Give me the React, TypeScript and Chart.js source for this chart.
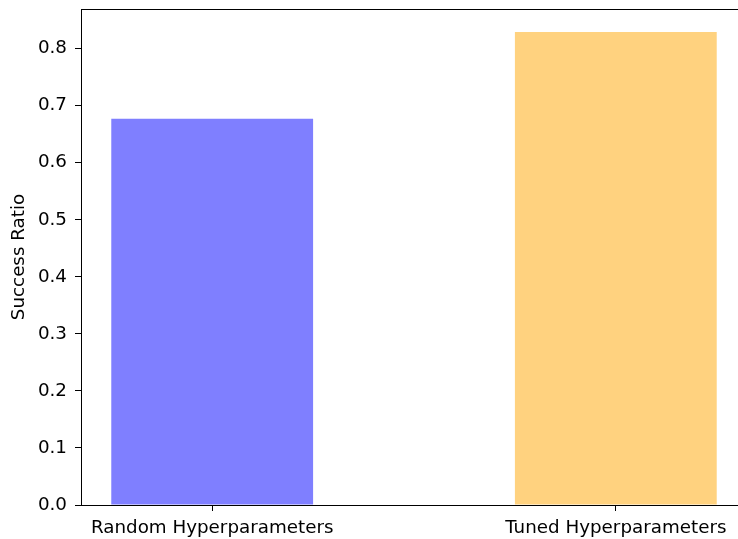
import React, { useEffect, useRef } from "react";
import { Chart, registerables } from "chart.js";

Chart.register(...registerables);

const categories = ["Random Hyperparameters", "Tuned Hyperparameters"];
const categoryPositions = [0, 1];
const successRatios = [0.677, 0.829];
const yTicks = [0, 0.1, 0.2, 0.3, 0.4, 0.5, 0.6, 0.7, 0.8];
const barColors = ["rgba(0,0,255,0.5)", "rgba(255,165,0,0.5)"];

const FONT = { family: "'DejaVu Sans', sans-serif", size: 18.3 };

const boxPlugin = {
  id: "box",
  afterDraw(chart: any) {
    const { ctx, chartArea } = chart;
    ctx.save();
    ctx.strokeStyle = "#000";
    ctx.lineWidth = 1;
    ctx.strokeRect(
      Math.round(chartArea.left) + 0.5,
      Math.round(chartArea.top) + 0.5,
      Math.round(chartArea.right - chartArea.left),
      Math.round(chartArea.bottom - chartArea.top)
    );
    ctx.restore();
  },
};

export default function App() {
  const ref = useRef<HTMLCanvasElement>(null);
  useEffect(() => {
    if (!ref.current) return;
    const chart = new Chart(ref.current, {
      type: "bar",
      data: {
        datasets: [
          {
            data: categoryPositions.map((x, i) => ({ x, y: successRatios[i] })),
            backgroundColor: barColors,
            borderWidth: 0,
            categoryPercentage: 1,
            barPercentage: 0.5,
          } as any,
        ],
      },
      plugins: [boxPlugin],
      options: {
        responsive: false,
        animation: false,
        devicePixelRatio: 1,
        layout: { padding: { top: 9, right: 13, left: 0, bottom: 0 } },
        plugins: { legend: { display: false }, tooltip: { enabled: false } },
        scales: {
          x: {
            type: "linear",
            offset: false,
            min: -0.325,
            max: 1.325,
            afterBuildTicks: (s: any) => {
              s.ticks = categoryPositions.map((v) => ({ value: v }));
            },
            afterFit: (s: any) => {
              s.height = 34;
              s.paddingLeft = 0;
              s.paddingRight = 0;
            },
            grid: { offset: false, drawOnChartArea: false, tickLength: 6, color: "#000", tickWidth: 1 },
            border: { color: "#000", width: 1 },
            ticks: {
              color: "#000",
              font: FONT,
              padding: 6,
              maxRotation: 0,
              autoSkip: false,
              callback: (v: any) => {
                const i = categoryPositions.indexOf(Number(v));
                return i >= 0 ? categories[i] : "";
              },
            },
          },
          y: {
            min: 0,
            max: 0.8695,
            afterBuildTicks: (s: any) => {
              s.ticks = yTicks.map((v) => ({ value: v }));
            },
            afterFit: (s: any) => {
              s.width = 81;
              s.paddingTop = 0;
              s.paddingBottom = 0;
            },
            grid: { drawOnChartArea: false, tickLength: 6, color: "#000", tickWidth: 1 },
            border: { color: "#000", width: 1 },
            ticks: {
              color: "#000",
              font: FONT,
              padding: 8,
              callback: (v: any) => Number(v).toFixed(1),
            },
            title: {
              display: true,
              text: "Success Ratio",
              color: "#000",
              font: FONT,
              padding: { top: 8, bottom: 0 },
            },
          },
        },
      } as any,
    });
    return () => chart.destroy();
  }, []);
  return (
    <div style={{ position: "fixed", left: 0, top: 0, width: 760, height: 539, background: "#fff" }}>
      <canvas ref={ref} width={760} height={539} />
    </div>
  );
}
